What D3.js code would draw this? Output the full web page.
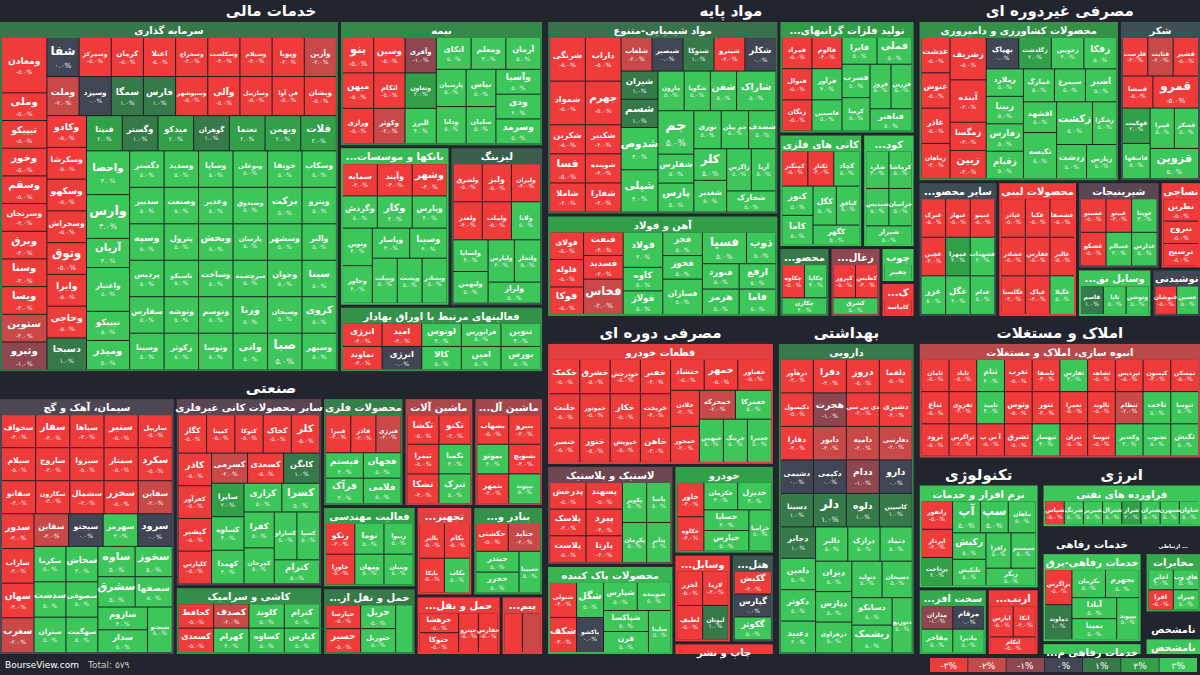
<!DOCTYPE html>
<html><head><meta charset="utf-8">
<script src="https://cdn.jsdelivr.net/npm/d3@7"></script>
<style>
body{margin:0;background:#22252d;}
svg{display:block;font-family:"DejaVu Sans",sans-serif;}
</style></head>
<body><div id="viz"></div>
<script>
// --- data: [symbol, change %, weight] ---
const sarmaye = [["ومعادن",-5,2],["وملی",-5],["تیپیکو",-5],["وخور",-5],["وسقم",-5],["وسرنجان",-4],["وبرق",-3],["وسنا",-3],["ویسا",-3],["ستوین",-2],["وثبرو",-1],["شفا",0],
  ["وسمرکز",-5],["کرمان",-5],["اعتلا",-5],["وسخراج",-4],["وسکلست",-4],["وسیلام",-4],["وپویا",-3],["وآرین",-2],["وملت",-2],["وسپزد",0],["سمگا",1],["فارس",1],
  ["وسبوشهر",-5],["وآلی",-5],["وساربیل",-5],["فن آوا",-5],["وبشان",-5],["وکادو",-5],["وسکرشا",-5],["وسکهو",-5],["وسخراش",-5],["وتوق",-5],["وایرا",-5],["وخاجی",-5],
  ["دسبحا",1],["فنپتا",2],["وگستر",1],["میدکو",2],["گوهران",1],["تعتما",2],["وبهمن",2],["فلات",2],["واحصا",3,1.5],["وارس",3,1.5],["آریان",3],
  ["واعتبار",5,1.5],["تیپیکو۲",5],["ومیدر",5],["دگستر",5],["وسدید",5],["وساپا",5],["وبوعلی",5],["خوتقا",5],["وسکاب",5],["سدبیر",5],["وسپه",5],["پردیس",5],["سفارس",5],["وسینا",5],["وصنعت",5],["وغدیر",5],["وصندوق",5],["برکت",5],
  ["وپترو",5],["پترول",5],["تاسیکو",5],["وتوشه",5],["زکوثر",5],["وبخش",5],["پارسان",5],["وسشهر",5],["والبر",5],["وساخت",5],["وتوسم",5],["وتوسا",5],["سرچشمه",5],["وجوان",5],["سینا",5],["ورنا",5],["واتی",5],["وسبحان",5],["کروی",5],["صبا",5],["وسپهر",5]];
const bime = [["بنو",-5],["میهن",-5],["ورازی",-5],["وسین",-5],["اتکام",-5],["وکوثر",-2],["وآفری",-1],["وتعاون",2],["البرز",4],["اتکای",5],["ومعلم",4],["آرمان",5],["پارسیان",5],["ودانا",5],["بپاس",5],["سامان",5],["وآسیا",5],["ودی",4],["وسرمد",5]];
const banks = [["سمایه",-3],["وآیند",-3],["وشهر",-3],["وگردش",5],["وکار",4],["وپارس",4],["وتوین",4],["وخاور",4],["وپاسار",4],["وسینا۲",4],["وبملت",5],["وپست",5],["وبصادر",5]];
const leasing = [["ولشرق",-5],["ولبز",-5],["ولیران",-4],["ولغدر",-4],["ولملت",-5],["ولانا",5],["ولساپا",4],["ولبهمن",5],["ولپارس",4],["ولتجار",5],["ولراز",5]];
const securities = [["انرژی۱",-4],["تماوند",-4],["امید",-3],["انرژی۳",0],["لوتوس",3],["کالا",5],["فرابورس",5],["امین",5],["تنوین",4],["بورس",5]];

const chemical = [["شرنگی",-5,1.5],["شمواد",-5,1.5],["شکربن",-5],["فسا",-5],["شاملا",-4],["داراب",-5,1.5],["جهرم",-5,1.5],["شکبیر",-4],["شوینده۲",-4],["شفارا",-4],["شلعاب",-2],["شبصیر",0],["شتوکا",1],["شپترو",-4],["شکلر",0],["شیران",1],["شسم",1],
  ["شدوص",3,1.5],["شپلی",4,1.5],["مارون",5],["شگویا",5],["شفن",5],["شاراک",5,1.5],["جم",5,1.5],["شفارس",5],["پارس",5],["نوری",5],["جم پیلن",5],["شصدف",5],["کلر",5],["شغدیر",5],["زاگرس",5],["آریا",5],["شخارک",5]];
const nonferrous = [["فمراد",-5],["فنوال",-5],["زنگان",-5],["فالوم",-4],["فرآور",4],["فاسمین",5],["فایرا",5],["فملی",5],["فسرب",5],["کرمپا",5],["فروژ",5],["فزرین",5],["فباهنر",5]];
const metalOres = [["کمنگنز",-5],["تکنار",-4],["کچاد",5],["کنور",5],["کاما",5],["کگل",5],["کبافق",5],["کگهر",5]];
const steel = [["فولای",-5],["فلوله",-5],["فوکا",-5],["فنفت",-4],["فسدید",-3],["فخاس",-2,1.5],["فولاد",3,1.5],["کاوه",5],["فولاژ",5],["فجر",5],["فخوز",5],["فسازان",5,1.5],["فسپا",5,1.5],["ذوب",5],["فنورد",5],["هرمز",5],["ارفع",5],["فاما",5]];
const fertil = [["شلرد",4],["کرماشا",5],["شپدیس",5],["خراسان",5],["شیراز",5]];
const paper = [["چکاوه",-5],["چکاپا",4],["چکارن",4]];
const coal = [["کپرور",-5],["کطبس",-3],["کشرق",5]];
const wood = [["چفیبر",5]];
const mineral = [["کاماسه",-5]];

const agri = [["غدشت",-5],["غنوش",-5],["غاذر",-5],["زماهان",-3],["زشریف",-5,1.5],["آینده",-3,1.5],["زمگسا",-4],["زبین",-3],["بهپاک",0],["زگلدشت",2],["زجویبن",3],["زفکا",5],["زملارد",5],["زبینا",5],["زفارس",5],["زقیام",5],["غمارگ",5],["سیمرغ",5],["اشیر",5],["افشهد",5],["تکیسه",5,1.5],["زکشت",5,1.5],["زشگزا",5],["زدشت",5],["زپارس",5]];
const sugar = [["قلرست",-3],["قثابت",-2],["قشیر",-5],["قنیشا",-5],["قمرو",-5,1.5],["قهکمت",2],["قاسفها",5],["قپیرا",5],["قشکر",5],["قزوین",5,1.5]];
const otherFood = [["غبرک",-5],["غبهار",-5],["غبینو",-5],["غچین",-3],["غمهرا",2],["غشهداب",3],["غزر",5],["غگل",4],["غدام",5]];
const dairy = [["غپاذر",-5],["غکبا",-5],["غشصفا",-5],["غشاذر",-5],["غفارس",-5],["غالبر",-5],["غگلستا",-3],["غپاک",-4],["غگیلا",5]];
const sweets = [["غصینو",-5],["غشکو",-5],["غبیتو",-3],["غویتا",3],["غسالم",3],["غدارس",5]];
const textile = [["نطرین",-5],["نبروج",-5],["نرسیج",-5]];
const vehicles = [["قاسم",1],["ثاپا",5],["وتوشن",5]];
const drinks = [["غنوشان",-5],["غسین",5]];

const cement = [["سخواف",-3],["سفار",-3],["سیاها",-3],["ستیر",-5],["ساربیل",-5],["سیلام",-5],["ساروج",-3],["سیزوا",-5],["سمتاز",-5],["سکرد",-5],["سفانو",-3],["سکارون",-3],["سشمال",-3],["سخزر",-5],["سفاین",-2],["سدور",-3],["ساراب",-3],["سهان",-3],["سغرب",-2],["سقاین",-2],
  ["سیجتو",0],["سهرمز",3],["سرود",0],["سکرما",5],["سدشت",5],["ستران",5],["سخاش",3],["سصوفی",5],["سهگمت",5],["ساوه",5],["سخوز",5],["سشرق",5],["سصفها",5],["ساروم",4],["سدار",5],["سبجنو",5]];
const nonMetal = [["کگاز",-5],["کمینا",-5],["کتوکا",-5],["کخاک",-5],["کلر۲",-5],["کاذر",-5],["کفرآور",-5],["کپشیر",-5],["کلپارس",-5],["کسرمی",-2],["کسعدی۲",-5],["کابگن",1],["ساپرا",2],["کساوه۲",4],["کهمدا",3],["کرازی",5],["کسرا",5],["کفرا",5],["کمرجان",5],["کساراو",5],["کسپا",5],["کترام۲",5]];
const tile = [["کحافظ",-5],["کسعدی",-5],["کصدف",-2],["کهرام",4],["کلوند",5],["کساوه",5],["کترام",5],["کپارس",5]];
const metalProd = [["فبیرا",-3],["فاذر",-3],["فنرژی",-2],["فیستم",3],["فرآک",3],["فجهان",5],["فلامی",5]];
const machinery = [["تکشا",-5],["تکنو",-3],["تیمرا",-5],["تشکا",-4],["تکمبا",3],["تبرک",5]];
const electrical = [["بشهاب",-5],["بنیرو",-3],["بموتو",3],["بتمهر",-4],["بسویچ",-4],["بپیوند",5]];
const engineering = [["رتکو",-3],["خاورا",-5],["نوما",5],["رنیوا",5],["ومهان",5],["وبنیان",5]];
const rail = [["حپارسا",-5],["حسیر",-5],["حریل",5],["حتوریل",5],["حسینا",5]];
const industrialEq = [["بالبر",-5],["بکام",-5],["بایکا",-5],["بکاب",5]];
const ports = [["حکشتی",-5],["حتاید",-2],["حبندر",5],["حخزر",5],["حسینا۲",5]];
const freight = [["حرهشا",-5],["حتوکا",-5],["حپترو",-5],["حفارس",-5]];
const contracting = [["خصدرا",-3],["بالاس",-2]];

const autoParts = [["خکمک",-5],["خلنت",-5],["خنصیر",-5],["خشرق",-5],["خموتور",-5],["ختور",-5],["خودرخش",-5],["خکار",-5],["خپویش",-5],["خفنر",-4],["خریخت",-4],["خاهن",-3],["ختشاد",-5],["خمهر",-5],["خفناور",-5],["خلادن",-3],["خمحور",-3],["خمحرکه",-2],["خعمرکا",5],["خبهمن",5],["خرینگ",5],["خعمرا",5]];
const rubber = [["پدرخش",-5],["پلاسک",-3],["پلاست",-5],["پسهند",-5],["پیزد",-4],["پارتا",-4],["پکویر",5],["پاسا",5],["پکرمان",5],["پتایر",5]];
const detergent = [["شتولی",-4],["شکف",-3],["شگل",5],["پاکشو",0],["شپارس",5],["شوینده",5],["شپاکسا",5],["قرن",5],["ساینا",5]];
const autos = [["خاور",-3],["خکاوه",-3],["خکرمان",3],["خدیزل",3],["خساپا",4],["خپارس",5],["خزامیا",5]];
const appliances = [["لخزر",-5],["لازما",-3],["لطیف",-5],["لبوتان",1]];
const hotel = [["گکیش",-4],["گپارس",0],["گکوثر",5]];
const printing = [["چافست",-5]];

const pharma = [["درهآور",-3],["دفرا",-3],["دروز",-5],["دلقما",-5],["دکپسول",-5],["هجرت",-1],["دی بی سی",-3],["دشیری",-4],["دفارا",-3],["دابور",-2],["دامیه",-2],["دفارسی",-2],["دشیمی",0],["دکیمی",0],["ددام",-1],["دارو",0],["دسینا",1],["دلر",1],["دلوه",1],["کاسپین",1],["دجابر",1],
  ["دامین",5],["دکوثر",5],["دعبید",3],["دالبر",5],["درازک",5],["دتماد",5],["دیران",5],["دپارس",5],["دزهراوی",5],["دتولید",5],["دسبحان",5],["دسانکو",5],["ریشمک",5],["دتوزیع",5]];

const realEstate = [["ثامان",-5],["ثباغ",-5],["ثرود",-5],["ثاباد",-5],["ثقزوی",-3],["ثزاگرس",-3],["ثنام",3],["ثامید",4],["آ س پ",-5],["ثغرب",-5],["وثوس",-5],["ثشرق",-5],["ثاصفا",-3],["ثنور",-3],["ثبهساز",4],["ثفارس",4],["ثعمرا",-5],["ثتران",-5],["ثشاهد",-5],["ثالوند",-5],["ثتوسا",-5],["ثپردیس",-5],["کیسون",-3],["ثمسکن",-5],["ثنظام",-2],["وکغدیر",4],["ثاخت",5],["ثنوسا",5],["ثجنوب",5],["ثکیش",5]];

const software = [["رانفور",-5],["اپرداز",-4],["پرداخت",2],["آپ",5],["سپ",5],["ماهان",5],["رکیش",5],["تاپکیش",5],["رافزا",5],["سیستم",5],["زیگر",5]];
const hardware = [["مداران",-1],["مفاخر",5],["مرقام",0],["مادیرا",5]];
const telecomEq = [["اپارس",-5],["انکا",-4],["اتکام۲",-5]];
const refinery = [["شپاس",-5],["شرنگ",5],["شبریز",5],["شترال",5],["شراز",2],["شتران",5],["شبهرن",5],["شاوان",5]];
const power = [["بزاگرس",-5],["دماوند",1],["بکرمان",5],["بجهرم",5],["آبادا",5],["بمپنا",5],["بپیوند۲",5]];
const welfareOther = [["رفاه",5]];
const telecom = [["اخابر",4],["اقرا",-5],["های وب",5],["همراه",5]];
const unknown = [["نامشخص۱",5]];

const sectorWeight = {"خدمات مالی":204,"صنعتی":153,"مواد پایه":118,"مصرفی غیردوره ای":91,"مصرفی دوره ای":77,"بهداشتی":47,"املاک و مستغلات":40,"تکنولوژی":24,"انرژی":11,"خدمات رفاهی":13,"ارتباطی ...":5,"نامشخص":2.5};
const legendSteps = [-3,-2,-1,0,1,2,3];

// --- build hierarchy ---
function sector(name, subs){
  const total = d3.sum(subs, s => d3.sum(s[1], d => d[2] || 1));
  return {name, type:"sector", children: subs.map(([sn, list]) => ({
    name: sn, type:"sub",
    children: list.map(d => ({name:d[0], chg:d[1], value: sectorWeight[name] * (d[2] || 1) / total}))
  }))};
}
const S = {
  mali: sector("خدمات مالی", [["سرمایه گذاری",sarmaye],["بیمه",bime],["بانکها و موسسات اعتباری",banks],["لیزینگ",leasing],["فعالیتهای مرتبط با اوراق بهادار",securities]]),
  sanati: sector("صنعتی", [["سیمان، آهک و گچ",cement],["سایر محصولات کانی غیرفلزی",nonMetal],["کاشی و سرامیک",tile],["محصولات فلزی",metalProd],["ماشین آلات",machinery],["ماشین آلات الکتریکی",electrical],["فعالیت مهندسی",engineering],["حمل و نقل از طریق خطوط راه آهن",rail],["تجهیزات صنعتی",industrialEq],["بنادر و کشتیرانی",ports],["حمل و نقل بار زمینی",freight],["پیمانکاری صنعتی",contracting]]),
  payeh: sector("مواد پایه", [["مواد شیمیایی-متنوع",chemical],["آهن و فولاد",steel],["تولید فلزات گرانبهای غیرآهن",nonferrous],["کانی های فلزی",metalOres],["کود و ترکیبات نیتروژن",fertil],["محصولات کاغذی",paper],["زغال سنگ",coal],["چوب",wood],["کانی غیر فلزی معدنی",mineral]]),
  ghair: sector("مصرفی غیردوره ای", [["محصولات کشاورزی و دامپروری",agri],["شکر",sugar],["سایر محصولات غذایی",otherFood],["محصولات لبنی",dairy],["شیرینیجات",sweets],["نساجی",textile],["وسایل نقلیه موتوری",vehicles],["نوشیدنی",drinks]]),
  dore: sector("مصرفی دوره ای", [["قطعات خودرو",autoParts],["لاستیک و پلاستیک",rubber],["محصولات پاک کننده",detergent],["خودرو",autos],["وسایل خانگی",appliances],["هتل و رستوران",hotel],["چاپ و نشر",printing]]),
  behdasht: sector("بهداشتی", [["دارویی",pharma]]),
  amlak: sector("املاک و مستغلات", [["انبوه سازی، املاک و مستغلات",realEstate]]),
  tech: sector("تکنولوژی", [["نرم افزار و خدمات",software],["سخت افزار و تجهیزات",hardware],["ارتباطات مخابراتی",telecomEq]]),
  energy: sector("انرژی", [["فراورده های نفتی",refinery]]),
  refah: sector("خدمات رفاهی", [["خدمات رفاهی-برق",power],["خدمات رفاهی متنوع",welfareOther]]),
  ertebat: sector("ارتباطی ...", [["مخابرات",telecom]]),
  namo: sector("نامشخص", [["نامشخص",unknown]])
};
const tree = {split:"x", children:[
  {split:"y", children:[S.mali, S.sanati]},
  {split:"y", children:[
    {split:"x", children:[S.payeh, S.ghair]},
    {split:"x", children:[S.dore, S.behdasht,
      {split:"y", children:[S.amlak,
        {split:"x", children:[S.tech,
          {split:"y", children:[S.energy,
            {split:"x", children:[S.refah,
              {split:"y", children:[S.ertebat, S.namo]}]}]}]}]}]}]}]};

const width = 1200, height = 675, mapH = 654;
const color = d3.scaleLinear().domain(legendSteps)
  .range(["#f03b3b","#c94848","#8e4750","#414654","#367a4a","#31a049","#3dc65a"]).clamp(true);
const fa = s => String(s).replace(/\d/g, d => "۰۱۲۳۴۵۶۷۸۹"[d]);

const root = d3.hierarchy(tree).sum(d => d.value || 0);
d3.treemap()
  .size([width, mapH])
  .tile((node, x0, y0, x1, y1) => {
    if (node.data.split === "x") d3.treemapDice(node, x0, y0, x1, y1);
    else if (node.data.split === "y") d3.treemapSlice(node, x0, y0, x1, y1);
    else d3.treemapSquarify.ratio(1.1)(node, x0, y0, x1, y1);
  })
  .paddingInner(d => d.data.split ? 6 : d.data.type === "sector" ? 3 : 1)
  .paddingTop(d => d.data.type === "sector" ? 22 : d.data.type === "sub" ? 16 : 0)
  .paddingLeft(d => d.data.type === "sub" ? 2 : 0)
  .paddingRight(d => d.data.type === "sub" ? 2 : 0)
  .paddingBottom(d => d.data.type === "sub" ? 2 : 0)
  (root);

const svg = d3.select("#viz").append("svg").attr("width", width).attr("height", height);
svg.append("rect").attr("width", width).attr("height", height).attr("fill", "#22252d");

const sectors = root.descendants().filter(d => d.data.type === "sector");
const subs = root.descendants().filter(d => d.data.type === "sub");
const leaves = root.leaves();

svg.selectAll(".sec").data(sectors).join("text")
  .attr("x", d => (d.x0 + d.x1) / 2).attr("y", d => d.y0 + 16)
  .attr("text-anchor", "middle").attr("fill", "#fff")
  .style("font-size", d => Math.min(15, (d.x1 - d.x0 - 6) / (d.data.name.length * 0.8)) + "px")
  .style("font-weight", "bold")
  .text(d => d.data.name);

subs.forEach(s => {
  s.avg = d3.sum(s.leaves(), l => l.data.chg * l.value) / s.value;
});
const sg = svg.selectAll(".sub").data(subs).join("g");
sg.append("rect")
  .attr("x", d => d.x0).attr("y", d => d.y0)
  .attr("width", d => d.x1 - d.x0).attr("height", d => d.y1 - d.y0)
  .attr("fill", d => color(d.avg));
sg.append("rect")
  .attr("x", d => d.x0 + 2).attr("y", d => d.y0 + 16)
  .attr("width", d => Math.max(0, d.x1 - d.x0 - 4)).attr("height", d => Math.max(0, d.y1 - d.y0 - 18))
  .attr("fill", "#1c1f26");
sg.append("text")
  .attr("x", d => (d.x0 + d.x1) / 2).attr("y", d => d.y0 + 12)
  .attr("text-anchor", "middle").attr("fill", "#fff")
  .style("font-size", "10px").style("font-weight", "bold")
  .text(d => {
    const max = Math.floor((d.x1 - d.x0 - 6) / 5.5);
    return d.data.name.length > max ? "..." + d.data.name.slice(0, Math.max(0, max - 3)) : d.data.name;
  });

const leaf = svg.selectAll(".leaf").data(leaves).join("g");
leaf.append("rect")
  .attr("x", d => d.x0).attr("y", d => d.y0)
  .attr("width", d => Math.max(0, d.x1 - d.x0)).attr("height", d => Math.max(0, d.y1 - d.y0))
  .attr("fill", d => color(d.data.chg));
leaf.each(function(d) {
  const w = d.x1 - d.x0, h = d.y1 - d.y0;
  if (w < 18 || h < 12) return;
  const name = d.data.name.replace(/[۰-۹]$/, "").replace(/\d$/, "");
  const fs = Math.max(6, Math.min(14, (w - 6) / (name.length * 0.7), h / 2.6));
  const g = d3.select(this);
  const two = h > fs * 2.4;
  g.append("text")
    .attr("x", d.x0 + w / 2).attr("y", d.y0 + h / 2 + (two ? -fs * 0.15 : fs * 0.35))
    .attr("text-anchor", "middle").attr("fill", "#fff")
    .style("font-size", fs + "px").style("font-weight", "bold")
    .text(name);
  if (two) g.append("text")
    .attr("x", d.x0 + w / 2).attr("y", d.y0 + h / 2 + fs * 0.95)
    .attr("text-anchor", "middle").attr("fill", "#f0f0f0")
    .style("font-size", Math.max(6, fs * 0.6) + "px")
    .text(fa((d.data.chg > 0 ? "" : d.data.chg < 0 ? "-" : "") + Math.abs(d.data.chg).toFixed(1) + "%"));
});

// footer
svg.append("text").attr("x", 5).attr("y", 668).attr("fill", "#fff").style("font-size", "9px").text("BourseView.com");
svg.append("text").attr("x", 88).attr("y", 668).attr("fill", "#ccc").style("font-size", "9px").text("Total: " + fa(579));

const lx = d3.scaleBand().domain(legendSteps).range([930, 1197]).paddingInner(0.02);
const lg = svg.selectAll(".lg").data(legendSteps).join("g");
lg.append("rect").attr("x", d => lx(d)).attr("y", 658).attr("width", lx.bandwidth()).attr("height", 14)
  .attr("fill", d => color(d));
lg.append("text").attr("x", d => lx(d) + lx.bandwidth() / 2).attr("y", 669).attr("text-anchor", "middle")
  .attr("fill", "#fff").style("font-size", "9px").text(d => fa((d < 0 ? "-" : "") + Math.abs(d) + "%"));
</script>
</body></html>
